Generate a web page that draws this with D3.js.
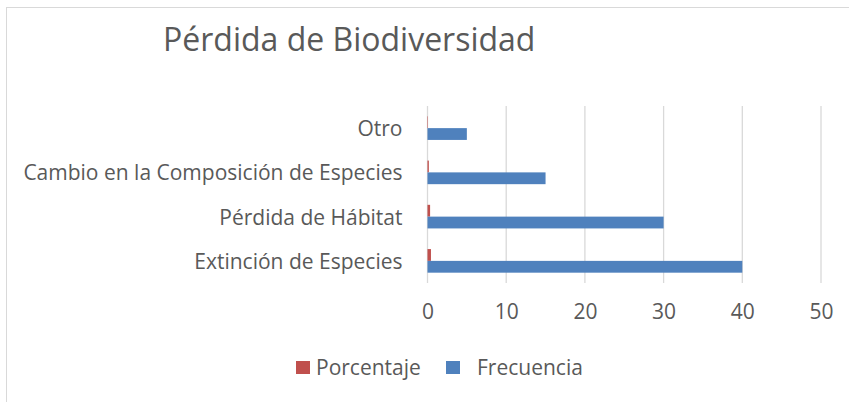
<!DOCTYPE html>
<html>
<head>
<meta charset="utf-8">
<script src="https://cdn.jsdelivr.net/npm/d3@7"></script>
<style>
  body { margin: 0; background: #fff; }
  text { font-family: "Open Sans", "Noto Sans", sans-serif; fill: #595959; }
</style>
</head>
<body>
<div id="chart"></div>
<script>
// data
var categories = ["Otro", "Cambio en la Composición de Especies", "Pérdida de Hábitat", "Extinción de Especies"];
var porcentaje = [0.06, 0.17, 0.33, 0.44];
var frecuencia = [5, 15, 30, 40];
var xTicks = [0, 10, 20, 30, 40, 50];
var seriesNames = ["Porcentaje", "Frecuencia"];
var colors = ["#c0504d", "#4f81bd"];

var W = 849, H = 402;
var margin = { top: 106, left: 427.5, right: 28, bottom: 119 };

var svg = d3.select("#chart").append("svg")
    .attr("width", W)
    .attr("height", H);

// outer frame (left and top edges visible)
svg.append("line").attr("x1", 6.5).attr("x2", 6.5).attr("y1", 7).attr("y2", H)
    .attr("stroke", "#d9d9d9");
svg.append("line").attr("x1", 6).attr("x2", W).attr("y1", 7.5).attr("y2", 7.5)
    .attr("stroke", "#d9d9d9");

var xScale = d3.scaleLinear()
    .domain([0, 50])
    .range([margin.left, W - margin.right]);

var yScale = d3.scaleBand()
    .domain(categories)
    .range([margin.top, H - margin.bottom]);

var barH = 11.8;

// gridlines
svg.append("g")
    .selectAll("line")
    .data(xTicks)
    .enter().append("line")
        .attr("x1", d => xScale(d))
        .attr("x2", d => xScale(d))
        .attr("y1", margin.top)
        .attr("y2", H - margin.bottom)
        .attr("stroke", "#d9d9d9")
        .attr("stroke-width", 1.3);

// bars
var rows = categories.map((c, i) => ({ cat: c, p: porcentaje[i], f: frecuencia[i] }));

svg.append("g").selectAll("rect")
    .data(rows)
    .enter().append("rect")
        .attr("x", xScale(0))
        .attr("y", d => yScale(d.cat) + yScale.bandwidth() / 2 - barH)
        .attr("width", d => xScale(d.p) - xScale(0))
        .attr("height", barH)
        .attr("fill", colors[0]);

svg.append("g").selectAll("rect")
    .data(rows)
    .enter().append("rect")
        .attr("x", xScale(0))
        .attr("y", d => yScale(d.cat) + yScale.bandwidth() / 2)
        .attr("width", d => xScale(d.f) - xScale(0))
        .attr("height", barH)
        .attr("fill", colors[1]);

// x axis labels
var xAxis = svg.append("g")
    .attr("transform", "translate(0," + (H - margin.bottom) + ")")
    .call(d3.axisBottom(xScale).tickValues(xTicks).tickSize(0).tickPadding(21));
xAxis.select(".domain").remove();
xAxis.selectAll("text")
    .style("font-size", "21px")
    .style("font-family", null)
    .attr("fill", null);

// y axis labels
var yAxis = svg.append("g")
    .attr("transform", "translate(" + (margin.left - 25) + ",0)")
    .call(d3.axisLeft(yScale).tickSize(0).tickPadding(0));
yAxis.select(".domain").remove();
yAxis.selectAll("text")
    .style("font-size", "21px")
    .style("font-family", null)
    .attr("fill", null)
    .attr("dy", "0.38em");

// title
svg.append("text")
    .attr("x", 163)
    .attr("y", 51)
    .style("font-size", "32px")
    .text("Pérdida de Biodiversidad");

// legend
var legendX = [296, 446];
var legendTextX = [316, 477];
var legend = svg.append("g");
seriesNames.forEach(function (name, i) {
    legend.append("rect")
        .attr("x", legendX[i])
        .attr("y", 361)
        .attr("width", 14)
        .attr("height", 13)
        .attr("fill", colors[i]);
    legend.append("text")
        .attr("x", legendTextX[i])
        .attr("y", 375)
        .style("font-size", "21px")
        .text(name);
});
</script>
</body>
</html>
